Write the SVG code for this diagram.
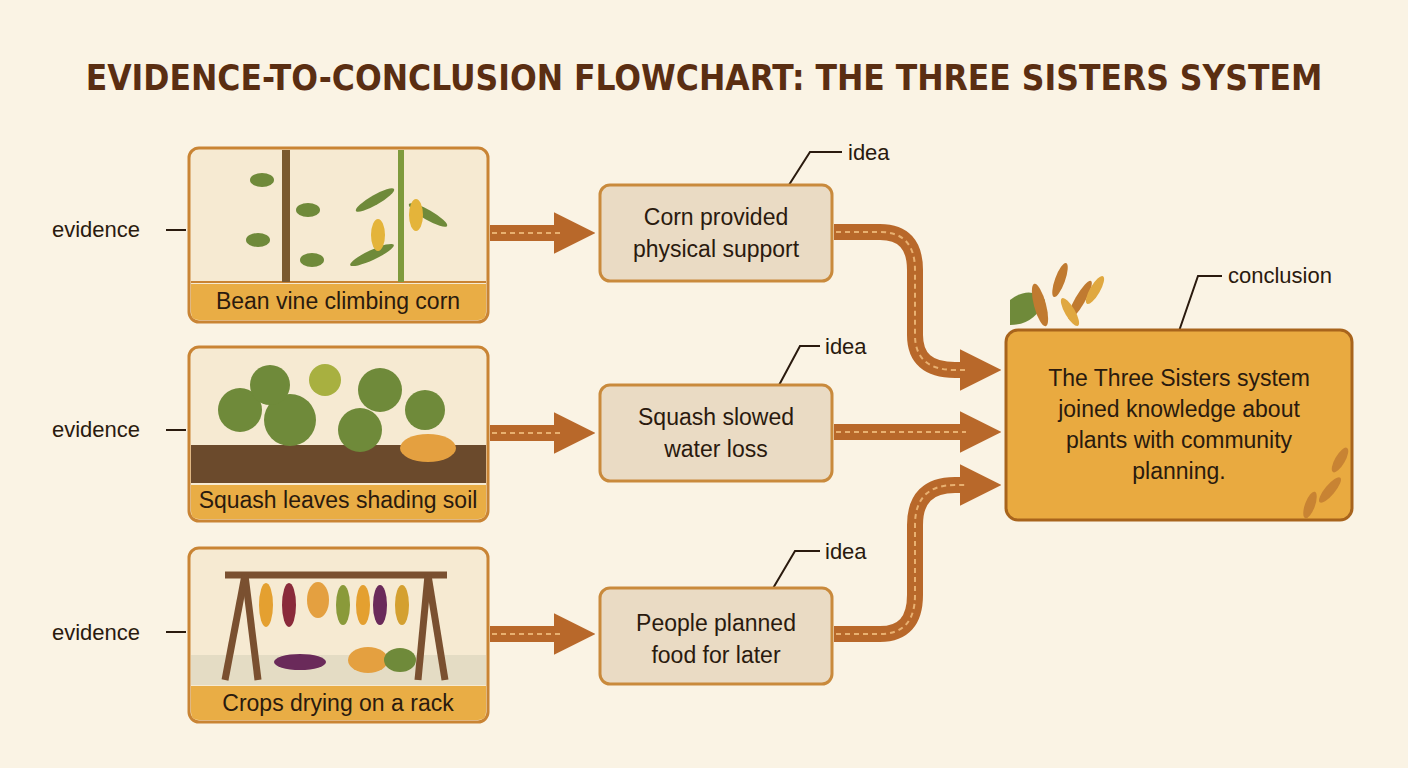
<svg xmlns="http://www.w3.org/2000/svg" width="1408" height="768" viewBox="0 0 1408 768">
<defs>
<style>
.t{font-family:"Liberation Sans",Arial,sans-serif;fill:#2a1a0e}
.lbl{font-size:22px}
.box{font-size:23px;text-anchor:middle;font-weight:500}
.ev{fill:#f6ead2;stroke:#c98434;stroke-width:3}
.band{fill:#e9ad45}
.idea{fill:#eadbc4;stroke:#c98a3c;stroke-width:3}
.lead{stroke:#2a1a0e;stroke-width:2;fill:none}
.arr{fill:none;stroke:#b8682a;stroke-width:16}
.arrd{fill:none;stroke:#e8b070;stroke-width:2;stroke-dasharray:5 4}
.leaf{fill:#6f8a3a}
</style>
<marker id="ah" viewBox="0 0 10 10" refX="2" refY="5" markerWidth="2.6" markerHeight="2.6" orient="auto" markerUnits="strokeWidth"><path d="M0,0 L10,5 L0,10 Z" fill="#b8682a"/></marker>
</defs>
<rect width="1408" height="768" fill="#faf3e4"/>
<text x="704" y="90" text-anchor="middle" font-family="'DejaVu Sans Condensed','DejaVu Sans',sans-serif" font-weight="bold" font-size="35" fill="#5a2e12">EVIDENCE-TO-CONCLUSION FLOWCHART: THE THREE SISTERS SYSTEM</text>

<g id="connectors">
<path class="arr" d="M490,233 H562" marker-end="url(#ah)"/><path class="arrd" d="M492,233 H560"/>
<path class="arr" d="M490,433 H562" marker-end="url(#ah)"/><path class="arrd" d="M492,433 H560"/>
<path class="arr" d="M490,634 H562" marker-end="url(#ah)"/><path class="arrd" d="M492,634 H560"/>
<path class="arr" d="M834,232 H880 Q915,232 915,270 V335 Q915,370 955,370 H968" marker-end="url(#ah)"/><path class="arrd" d="M836,232 H880 Q915,232 915,270 V335 Q915,370 955,370 H966"/>
<path class="arr" d="M834,432 H968" marker-end="url(#ah)"/><path class="arrd" d="M836,432 H966"/>
<path class="arr" d="M834,634 H880 Q915,634 915,595 V525 Q915,485 955,485 H968" marker-end="url(#ah)"/><path class="arrd" d="M836,634 H880 Q915,634 915,595 V525 Q915,485 955,485 H966"/>
</g>

<g id="ev1">
<rect class="ev" x="189" y="148" width="299" height="174" rx="10"/>
<path class="band" d="M191,284 H486 V312 Q486,320 478,320 H199 Q191,320 191,312 Z"/>
<line x1="191" y1="282" x2="486" y2="282" stroke="#c98434" stroke-width="2"/>
<rect x="282" y="150" width="8" height="132" fill="#7a5a30"/>
<rect x="398" y="150" width="6" height="132" fill="#7e9a3c"/>
<g class="leaf"><ellipse cx="262" cy="180" rx="12" ry="7"/><ellipse cx="308" cy="210" rx="12" ry="7"/><ellipse cx="258" cy="240" rx="12" ry="7"/><ellipse cx="312" cy="260" rx="12" ry="7"/><ellipse cx="375" cy="200" rx="22" ry="5" transform="rotate(-30 375 200)"/><ellipse cx="428" cy="215" rx="22" ry="5" transform="rotate(30 428 215)"/><ellipse cx="372" cy="255" rx="24" ry="5" transform="rotate(-25 372 255)"/></g>
<ellipse cx="378" cy="235" rx="7" ry="16" fill="#e4b43a"/><ellipse cx="416" cy="215" rx="7" ry="16" fill="#e4b43a"/>
<text class="t box" x="338" y="309">Bean vine climbing corn</text>
</g>
<g id="ev2">
<rect class="ev" x="189" y="347" width="299" height="174" rx="10"/>
<rect x="191" y="445" width="295" height="38" fill="#6b4a2c"/>
<path class="band" d="M191,485 H486 V511 Q486,519 478,519 H199 Q191,519 191,511 Z"/>
<g class="leaf"><circle cx="240" cy="410" r="22"/><circle cx="290" cy="420" r="26"/><circle cx="270" cy="385" r="20"/><circle cx="380" cy="390" r="22"/><circle cx="360" cy="430" r="22"/><circle cx="425" cy="410" r="20"/><circle cx="325" cy="380" r="16" fill="#a8b040"/></g>
<ellipse cx="428" cy="448" rx="28" ry="14" fill="#e4a040"/>
<text class="t box" x="338" y="508">Squash leaves shading soil</text>
</g>
<g id="ev3">
<rect class="ev" x="189" y="548" width="299" height="174" rx="10"/>
<rect x="191" y="655" width="295" height="30" fill="#e4dcc4"/>
<path class="band" d="M191,686 H486 V712 Q486,720 478,720 H199 Q191,720 191,712 Z"/>
<g stroke="#7a5030" stroke-width="7"><line x1="225" y1="575" x2="447" y2="575"/><line x1="245" y1="575" x2="225" y2="680"/><line x1="245" y1="575" x2="258" y2="680"/><line x1="428" y1="575" x2="418" y2="680"/><line x1="428" y1="575" x2="445" y2="680"/></g>
<g><ellipse cx="266" cy="605" rx="7" ry="22" fill="#e4a030"/><ellipse cx="289" cy="605" rx="7" ry="22" fill="#8a2a3a"/><ellipse cx="318" cy="600" rx="11" ry="18" fill="#e4a040"/><ellipse cx="343" cy="605" rx="7" ry="20" fill="#8a9a3a"/><ellipse cx="363" cy="605" rx="7" ry="20" fill="#e4a030"/><ellipse cx="380" cy="605" rx="7" ry="20" fill="#6a2a5a"/><ellipse cx="402" cy="605" rx="7" ry="20" fill="#d4a030"/></g>
<ellipse cx="300" cy="662" rx="26" ry="8" fill="#6a2a5a"/><ellipse cx="368" cy="660" rx="20" ry="13" fill="#e4a040"/><ellipse cx="400" cy="660" rx="16" ry="12" fill="#6f8a3a"/>
<text class="t box" x="338" y="711">Crops drying on a rack</text>
</g>

<g id="labels">
<text class="t lbl" x="52" y="237">evidence</text><line class="lead" x1="166" y1="230" x2="186" y2="230"/>
<text class="t lbl" x="52" y="437">evidence</text><line class="lead" x1="166" y1="430" x2="186" y2="430"/>
<text class="t lbl" x="52" y="640">evidence</text><line class="lead" x1="166" y1="632" x2="186" y2="632"/>
<path class="lead" d="M787,188 L810,152 H842"/><text class="t lbl" x="848" y="160">idea</text>
<path class="lead" d="M778,387 L800,346 H820"/><text class="t lbl" x="825" y="354">idea</text>
<path class="lead" d="M772,590 L795,551 H820"/><text class="t lbl" x="825" y="559">idea</text>
<path class="lead" d="M1178,334 L1198,276 H1222"/><text class="t lbl" x="1228" y="283">conclusion</text>
</g>

<g id="idea1"><rect class="idea" x="600" y="185" width="232" height="96" rx="10"/><text class="t box" x="716" y="225">Corn provided</text><text class="t box" x="716" y="257">physical support</text></g>
<g id="idea2"><rect class="idea" x="600" y="385" width="232" height="96" rx="10"/><text class="t box" x="716" y="425">Squash slowed</text><text class="t box" x="716" y="457">water loss</text></g>
<g id="idea3"><rect class="idea" x="600" y="588" width="232" height="96" rx="10"/><text class="t box" x="716" y="631">People planned</text><text class="t box" x="716" y="663">food for later</text></g>

<g id="conclusion">
<path d="M1010,300 Q1030,285 1045,300 Q1035,325 1010,325 Z" fill="#6f8a3a"/>
<g fill="#c07a30"><ellipse cx="1040" cy="305" rx="6" ry="22" transform="rotate(-15 1040 305)"/><ellipse cx="1060" cy="280" rx="5" ry="18" transform="rotate(20 1060 280)"/><ellipse cx="1080" cy="300" rx="5" ry="22" transform="rotate(30 1080 300)"/></g>
<g fill="#e0a840"><ellipse cx="1095" cy="290" rx="5" ry="16" transform="rotate(30 1095 290)"/><ellipse cx="1070" cy="312" rx="5" ry="16" transform="rotate(-30 1070 312)"/></g>
<rect x="1006" y="330" width="346" height="190" rx="12" fill="#e9aa40" stroke="#a8641c" stroke-width="3"/>
<g fill="#c07a30" opacity="0.8"><ellipse cx="1330" cy="490" rx="5" ry="16" transform="rotate(40 1330 490)"/><ellipse cx="1310" cy="505" rx="5" ry="14" transform="rotate(20 1310 505)"/><ellipse cx="1340" cy="460" rx="5" ry="14" transform="rotate(30 1340 460)"/></g>
<text class="t box" x="1179" y="386">The Three Sisters system</text>
<text class="t box" x="1179" y="417">joined knowledge about</text>
<text class="t box" x="1179" y="448">plants with community</text>
<text class="t box" x="1179" y="479">planning.</text>
</g>
</svg>
